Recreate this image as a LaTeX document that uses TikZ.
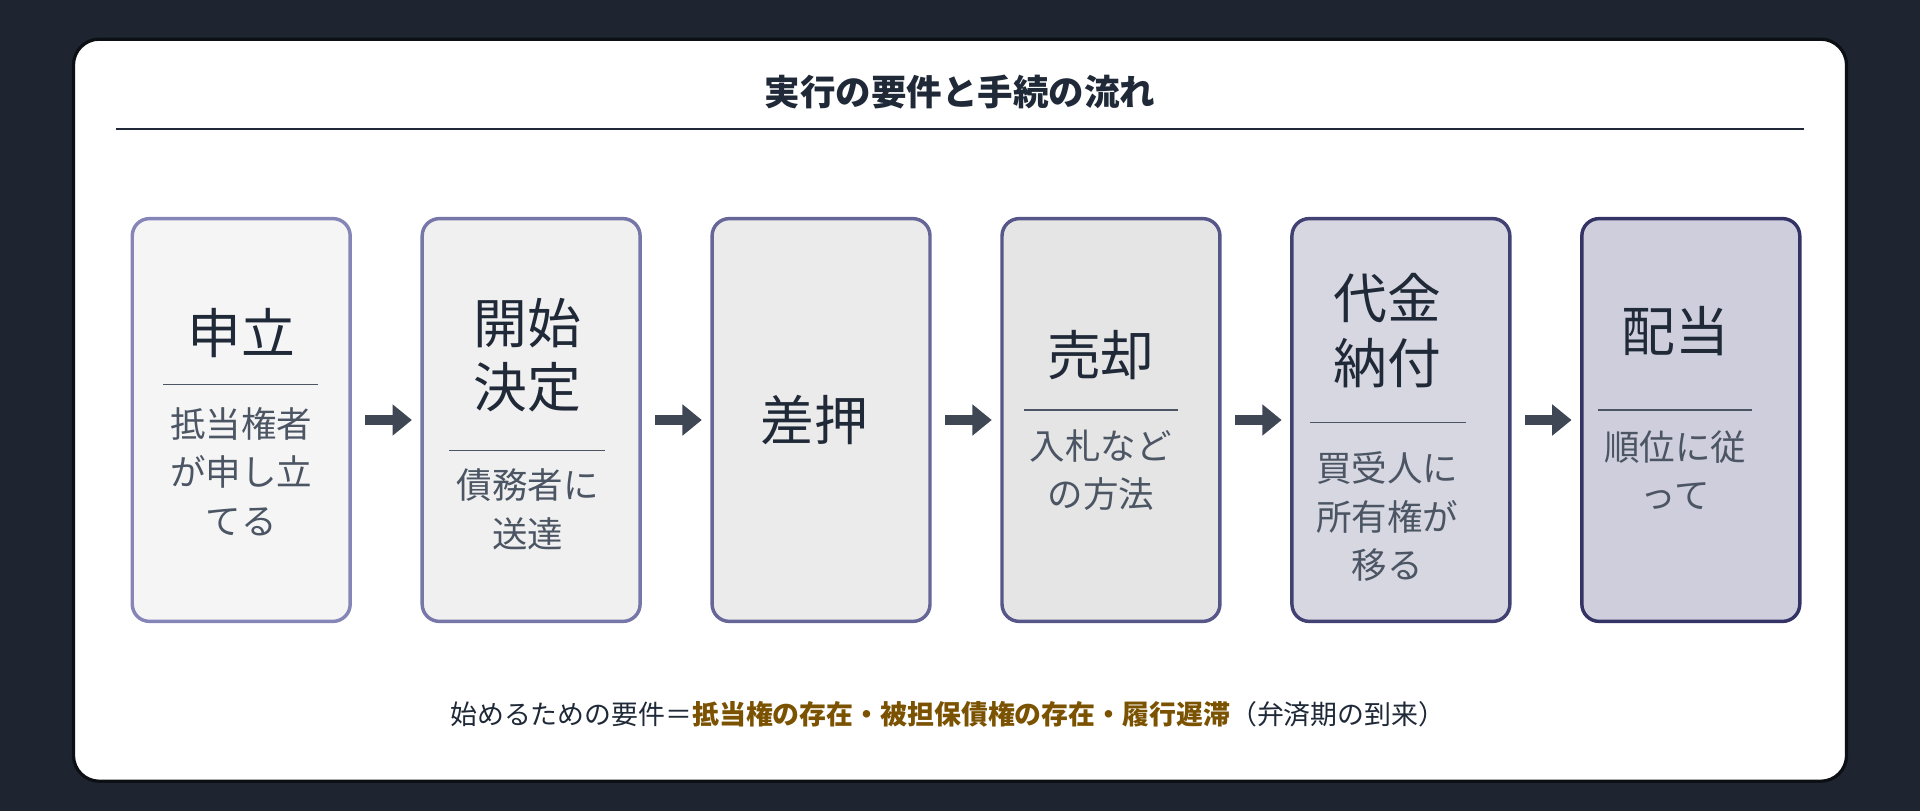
\documentclass[tikz,border=0pt]{standalone}
\usepackage{fontspec}
\setmainfont{Noto Sans CJK JP}
\usetikzlibrary{positioning, arrows.meta}
\definecolor{night}{HTML}{1E2530}
\definecolor{ink}{HTML}{1F2937}
\definecolor{subink}{HTML}{4B5563}
\definecolor{arrowc}{HTML}{3F4654}
\definecolor{gold}{HTML}{7A5200}

\begin{document}
\begin{tikzpicture}[x=0.02cm, y=-0.02cm, node distance=1.12cm,
  step box/.style={draw, line width=1.6pt, rounded corners=8pt, minimum width=3.56cm, minimum height=6.58cm, inner sep=0pt},
  main/.style={font=\fontsize{25}{29}\selectfont, text=ink, align=center},
  sub/.style={font=\fontsize{16.5}{22.5}\selectfont, text=subink, align=center},
  flow/.style={-{Triangle[length=9pt, width=14pt]}, line width=5pt, draw=arrowc}]

\fill[night] (0,0) rectangle (1568,662);
\useasboundingbox (0,0) rectangle (1568,662);
\filldraw[fill=white, draw=black!60!night, line width=1.5pt, rounded corners=12pt] (60,32) rectangle (1508,638);

\node[font=\bfseries\fontsize{16.5}{20}\selectfont, text=ink] (title) at (784,75) {実行の要件と手続の流れ};
\draw[ink, line width=0.9pt] (95,105) -- (1473,105);

% steps
\node[step box, fill=black!4!white, draw=black!35!white!80!blue] (S1) at (197,343) {};
\node[step box, fill=black!6!white, draw=black!42!white!80!blue, right=of S1] (S2) {};
\node[step box, fill=black!8!white, draw=black!50!white!80!blue, right=of S2] (S3) {};
\node[step box, fill=black!10!white, draw=black!58!white!80!blue, right=of S3] (S4) {};
\node[step box, fill=black!12!white!96!blue, draw=black!68!white!80!blue, right=of S4] (S5) {};
\node[step box, fill=black!14!white!94!blue, draw=black!75!white!80!blue, right=of S5] (S6) {};

\foreach \a/\b in {S1/S2, S2/S3, S3/S4, S4/S5, S5/S6}
  \draw[flow] ([xshift=0.22cm]\a.east) -- ([xshift=-0.14cm]\b.west);

% labels
\node[main] at (197,272) {申立};
\draw[subink, line width=0.8pt] (133,314) -- (260,314);
\node[sub] at (197,385) {抵当権者\\が申し立\\てる};

\node[main, font=\fontsize{25}{30}\selectfont] at (431,290) {開始\\決定};
\draw[subink, line width=0.8pt] (367,368) -- (494,368);
\node[sub] at (431,416) {債務者に\\送達};

\node[main] at (665,343) {差押};

\node[main] at (899,290) {売却};
\draw[subink, line width=0.8pt] (836,335) -- (962,335);
\node[sub] at (899,384) {入札など\\の方法};

\node[main, font=\fontsize{25}{30}\selectfont] at (1133,270) {代金\\納付};
\draw[subink, line width=0.8pt] (1070,345) -- (1197,345);
\node[sub] at (1133,422) {買受人に\\所有権が\\移る};

\node[main] at (1368,270) {配当};
\draw[subink, line width=0.8pt] (1305,335) -- (1431,335);
\node[sub] at (1368,384) {順位に従\\って};

\node[font=\fontsize{12.5}{15}\selectfont, text=ink] (req) at (774,583)
  {始めるための要件＝\textcolor{gold}{\bfseries 抵当権の存在・被担保債権の存在・履行遅滞}（弁済期の到来）};
\end{tikzpicture}
\end{document}
